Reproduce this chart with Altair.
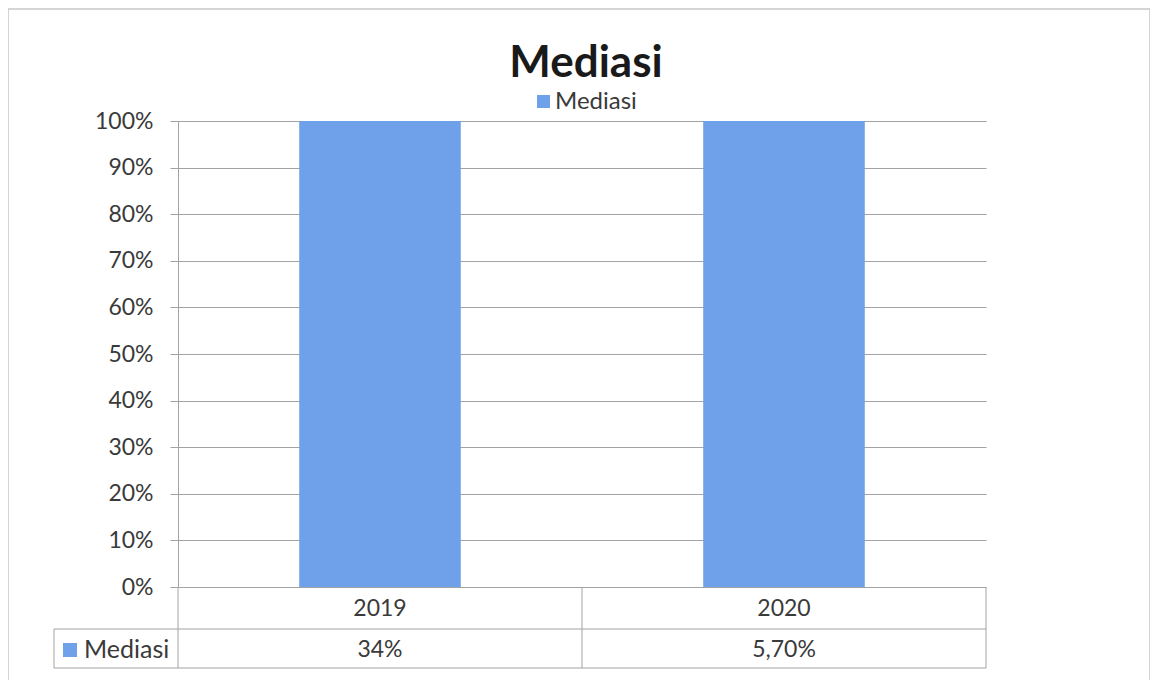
import altair as alt
import pandas as pd

years = ["2019", "2020"]
values = [34.0, 5.7]
value_labels = ["34%", "5,70%"]
series_name = "Mediasi"
title_text = "Mediasi"
y_ticks = [i / 10 for i in range(11)]

df = pd.DataFrame({"year": years, "value": values, "label": value_labels, "series": [series_name] * 2})

BAR = "#6fa1ea"
GRID = "#a3a3a3"
TXT = "#3a3a3a"
FONT = "Lato"

xscale = alt.Scale(domain=years, paddingInner=0.6, paddingOuter=0.3)

bars = alt.Chart(df).mark_bar(color=BAR).encode(
    x=alt.X("year:N", scale=xscale, sort=years,
            axis=alt.Axis(title=None, labelAngle=0, ticks=False, domain=False, grid=False,
                          labelFontSize=23, labelColor=TXT, labelFont=FONT,
                          labelBaseline="middle", labelPadding=21)),
    y=alt.Y("value:Q", stack="normalize",
            scale=alt.Scale(domain=[0, 1]),
            axis=alt.Axis(title=None, values=y_ticks, format=".0%",
                          grid=True, gridColor=GRID, gridWidth=1,
                          tickSize=8, tickColor=GRID, domainColor=GRID,
                          labelFontSize=23, labelColor=TXT, labelFont=FONT,
                          labelPadding=17)),
)

table_vals = alt.Chart(df).mark_text(fontSize=23, font=FONT, color=TXT, baseline="middle").encode(
    x=alt.X("year:N", scale=xscale, sort=years),
    y=alt.value(529),
    text="label:N",
)

def hrule(x1, x2, y):
    return alt.Chart(df.head(1)).mark_rule(color=GRID, strokeWidth=1).encode(
        x=alt.value(x1), x2=alt.value(x2), y=alt.value(y))

def vrule(x, y1, y2):
    return alt.Chart(df.head(1)).mark_rule(color=GRID, strokeWidth=1).encode(
        x=alt.value(x), y=alt.value(y1), y2=alt.value(y2))

lines = [
    hrule(-124, 808, 508),
    hrule(-124, 808, 547),
    vrule(-124, 508, 547),
    vrule(0, 466, 547),
    vrule(404, 466, 547),
    vrule(808, 466, 547),
]

border = alt.Chart(df.head(1)).mark_rect(fill=None, stroke="#c8c8c8", strokeWidth=1.5).encode(
    x=alt.value(-170), x2=alt.value(972), y=alt.value(-112), y2=alt.value(600))

title = alt.Chart(df.head(1)).mark_text(fontSize=44, font=FONT, fontWeight="bold",
                                        color="#1a1a1a", align="center", baseline="alphabetic").encode(
    x=alt.value(408), y=alt.value(-44), text=alt.value(title_text))

leg_sq = alt.Chart(df.head(1)).mark_rect(color=BAR).encode(
    x=alt.value(359), x2=alt.value(372), y=alt.value(-26), y2=alt.value(-13))
leg_txt = alt.Chart(df.head(1)).mark_text(fontSize=24, font=FONT, color=TXT, align="left",
                                          baseline="middle").encode(
    x=alt.value(377), y=alt.value(-19), text="series:N")

tab_sq = alt.Chart(df.head(1)).mark_rect(color=BAR).encode(
    x=alt.value(-115), x2=alt.value(-101), y=alt.value(522), y2=alt.value(536))
tab_txt = alt.Chart(df.head(1)).mark_text(fontSize=25, font=FONT, color=TXT, align="left",
                                          baseline="middle").encode(
    x=alt.value(-94), y=alt.value(529), text="series:N")

chart = alt.layer(border, bars, table_vals, *lines, title, leg_sq, leg_txt, tab_sq, tab_txt).properties(
    width=808, height=466,
    background="white",
    autosize=alt.AutoSizeParams(type="none"),
    padding={"left": 170, "top": 113, "right": 164, "bottom": 95},
).configure_view(strokeWidth=0)

chart.save("out.html", embed_options={"renderer": "svg", "actions": False})
